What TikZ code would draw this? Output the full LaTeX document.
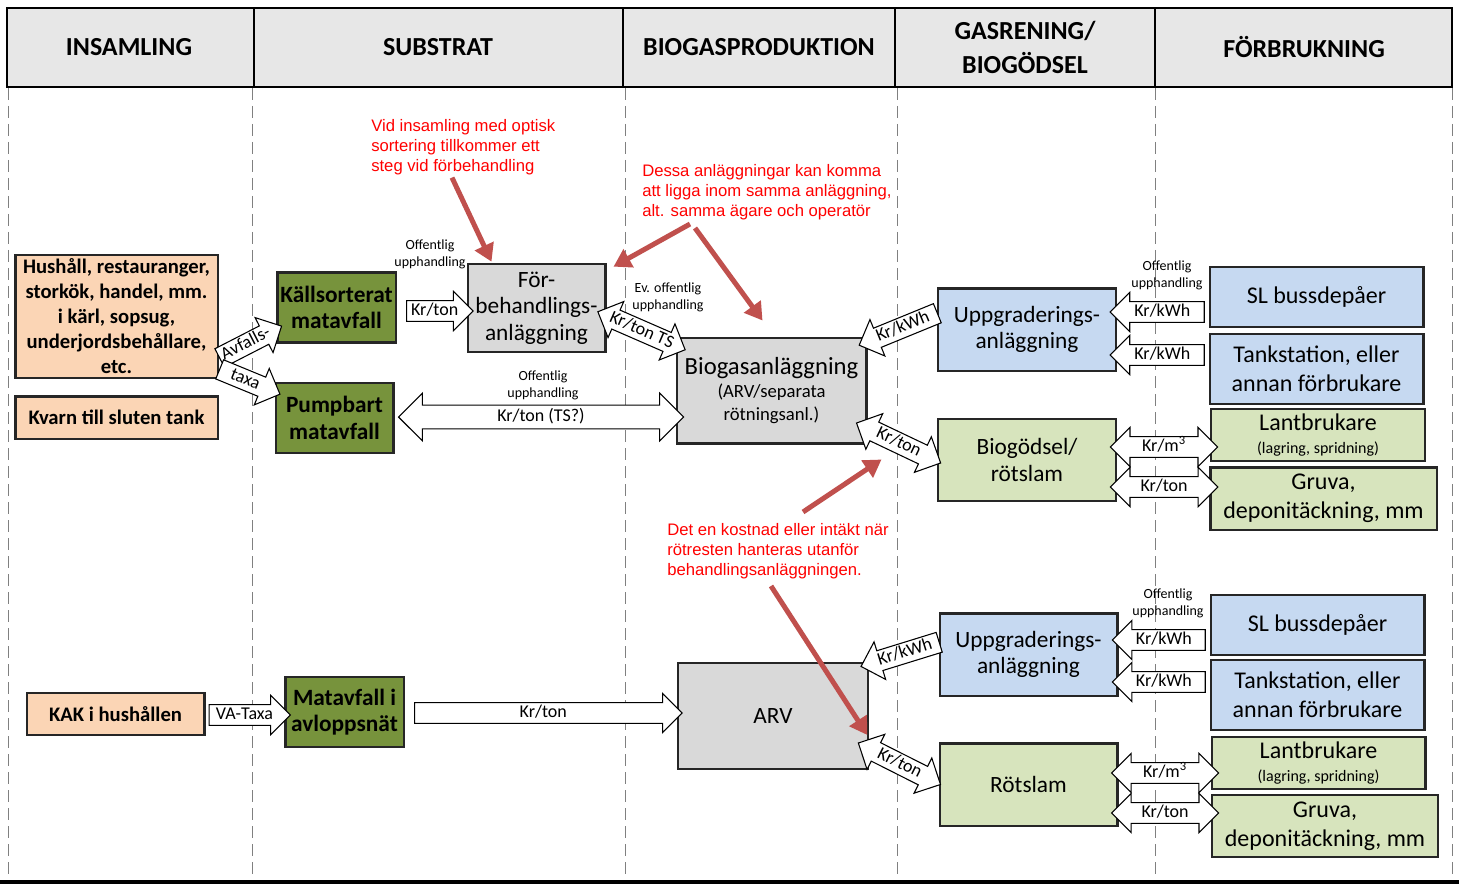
\documentclass[tikz,border=0pt]{standalone}
\usepackage{fontspec}
\setmainfont{Carlito}
\newfontfamily\notefont{Liberation Sans}
\usepackage{tikz}
\usetikzlibrary{calc, positioning}
\usetikzlibrary{shapes.arrows}
\usetikzlibrary{arrows.meta}
\tikzset{>={Triangle[width=15pt,length=13pt]}}
\definecolor{peach}{HTML}{FBD5B5}
\definecolor{olive}{HTML}{77933C}
\definecolor{lgray}{HTML}{D9D9D9}
\definecolor{lblue}{HTML}{C6D9F1}
\definecolor{lgreen}{HTML}{D7E4BD}
\definecolor{headgray}{HTML}{E7E7E7}
\definecolor{notered}{HTML}{C0504D}
\newcommand\headtxt{\fontsize{19.5}{25}\selectfont}
\newcommand\instxt{\fontsize{15.5}{18.75}\selectfont}
\newcommand\boxtxt{\fontsize{17.5}{20}\selectfont}
\newcommand\rtxt{\fontsize{18}{21.75}\selectfont}
\newcommand\arrtxt{\fontsize{13.5}{15}\selectfont}
\newcommand\smalltxt{\fontsize{10.5}{12.75}\selectfont}
\newcommand\notetxt{\notefont\fontsize{12.5}{15.2}\selectfont}
\newcommand\bigname{\fontsize{18.5}{17}\selectfont}
\newcommand\subname{\fontsize{14}{17}\selectfont}
\newcommand\useinfo{\fontsize{12}{17}\selectfont}
\newcommand\rblock[5][]{\path let \p1=(#3), \p2=(#4), \n1={atan2(\y2-\y1,\x2-\x1)}, \n2={veclen(\x2-\x1,\y2-\y1)}
  in node[sarr, minimum height=\n2, rotate=\n1, anchor=tail, #1] (#2) at (\p1) {#5};}
\newcommand\lblock[5][]{\path let \p1=(#3), \p2=(#4), \n1={atan2(\y2-\y1,\x2-\x1)}, \n2={veclen(\x2-\x1,\y2-\y1)}
  in node[sarr, shape border rotate=180, minimum height=\n2, rotate=\n1, anchor=tip, #1] (#2) at (\p1) {#5};}
\newcommand\dblock[5][]{\path let \p1=(#3), \p2=(#4), \n1={atan2(\y2-\y1,\x2-\x1)}, \n2={veclen(\x2-\x1,\y2-\y1)}
  in node[darr, minimum height=\n2, rotate=\n1, #1] (#2) at ($(\p1)!0.5!(\p2)$) {#5};}

\begin{document}
\begin{tikzpicture}[x=0.75pt, y=-0.75pt,
    cell/.style={font=\headtxt\bfseries, align=center},
    box/.style={draw=black!85, line width=2pt, inner sep=0pt, align=center},
    insbox/.style={box, fill=peach, font=\instxt\bfseries},
    subbox/.style={box, fill=olive, font=\boxtxt\bfseries},
    prodbox/.style={box, fill=lgray, font=\boxtxt},
    gasbox/.style={box, fill=lblue, font=\boxtxt},
    godbox/.style={box, fill=lgreen, font=\boxtxt},
    userbox/.style={box, font=\rtxt},
    lantbox/.style={box, fill=lgreen, font=\fontsize{18}{17}\selectfont},
    blk/.style={draw, fill=white, line width=0.8pt, font=\arrtxt, inner xsep=2pt, inner ysep=1.6pt,
        text height=9pt, text depth=2.5pt},
    sarr/.style={blk, single arrow, single arrow head extend=7pt, single arrow tip angle=90},
    darr/.style={blk, double arrow, double arrow head extend=7pt, double arrow tip angle=90},
    tender/.style={font=\smalltxt, align=center, inner sep=0pt},
    remark/.style={font=\notetxt, text=red, align=left, inner sep=0pt, anchor=north west},
    pointer/.style={->, draw=notered, line width=3.75pt},
    colline/.style={draw=gray, line width=0.75pt, dash pattern=on 9pt off 4.5pt}
  ]
  \useasboundingbox (0,0) rectangle (1459,884);

  \draw[fill=headgray, line width=1.2pt] (7,8) rectangle (1452,87);
  \foreach \x in {254,623,895,1155}
  \draw[line width=1.2pt] (\x,8) -- (\x,87);
  \foreach \x in {8,252,625,897,1155,1452}
  \draw[colline] (\x,88) -- (\x,878);
  \fill (0,880) rectangle (1459,884);

  \node[cell] (insamling) at (129,47.5) {INSAMLING};
  \node[cell] (substrat) at (438,47.5) {SUBSTRAT};
  \node[cell] (produktion) at (759,47.5) {BIOGASPRODUKTION};
  \node[cell] (gasrening) at (1025,47.5) {GASRENING/\\BIOGÖDSEL};
  \node[cell] (forbrukning) at (1304,47.5) {FÖRBRUKNING};

  \node[insbox, minimum width=152pt, minimum height=92pt] (hush) at (116.5,316.5)
    {Hushåll, restauranger,\\storkök, handel, mm.\\i kärl, sopsug,\\underjordsbehållare,\\etc.};
  \node[insbox, minimum width=152pt, minimum height=32pt] (kvarn) at (116.5,417.5) {Kvarn till sluten tank};
  \node[insbox, minimum width=133pt, minimum height=31.5pt] (kak) at (115.5,714) {KAK i hushållen};

  \node[subbox, minimum width=89pt, minimum height=52pt] (kallsort) at (336.5,307.5) {Källsorterat\\matavfall};
  \node[subbox, minimum width=88pt, minimum height=52.5pt] (pump) at (334.5,418) {Pumpbart\\matavfall};
  \node[subbox, minimum width=89pt, minimum height=52.5pt] (avlopp) at (344.5,712) {Matavfall i\\avloppsnät};

  \node[prodbox, minimum width=103pt, minimum height=66pt] (forbeh) at (536.5,308) {För-\\behandlings-\\anläggning};
  \node[prodbox, font=\bigname, minimum width=142pt, minimum height=79pt] (biogas) at (771.5,390.5)
    {Biogasanläggning\\\subname (ARV/separata\\\subname rötningsanl.)};
  \node[prodbox, minimum width=142.5pt, minimum height=79.5pt] (arv) at (773,716) {ARV};

  \node[gasbox, minimum width=133.5pt, minimum height=62pt] (uppA) at (1027,329.5) {Uppgraderings-\\anläggning};
  \node[godbox, minimum width=133.5pt, minimum height=61.5pt] (godsel) at (1027,460) {Biogödsel/\\rötslam};
  \node[gasbox, minimum width=133pt, minimum height=62pt] (uppB) at (1028.5,654.5) {Uppgraderings-\\anläggning};
  \node[godbox, minimum width=133pt, minimum height=62pt] (rotslam) at (1028.5,784.5) {Rötslam};

  \node[userbox, fill=lblue, minimum width=160pt, minimum height=45pt] (slA) at (1316.5,297) {SL bussdepåer};
  \node[userbox, fill=lblue, minimum width=160pt, minimum height=52.5pt] (tankA) at (1316.5,369) {Tankstation, eller\\annan förbrukare};
  \node[lantbox, minimum width=160.5pt, minimum height=39pt] (lantA) at (1318,435)
    {Lantbrukare\\\useinfo (lagring, spridning)};
  \node[userbox, fill=lgreen, minimum width=170pt, minimum height=47pt] (gruvaA) at (1323.5,498.5) {Gruva,\\deponitäckning, mm};
  \node[userbox, fill=lblue, minimum width=160pt, minimum height=45pt] (slB) at (1317.5,625) {SL bussdepåer};
  \node[userbox, fill=lblue, minimum width=160pt, minimum height=52.5pt] (tankB) at (1317.5,695) {Tankstation, eller\\annan förbrukare};
  \node[lantbox, minimum width=160pt, minimum height=39pt] (lantB) at (1318.5,763)
    {Lantbrukare\\\useinfo (lagring, spridning)};
  \node[userbox, fill=lgreen, minimum width=169.5pt, minimum height=46.5pt] (gruvaB) at (1325,826) {Gruva,\\deponitäckning, mm};

  \rblock{avfalls}{$(hush.south east)+(0,-21)$}{$(kallsort.west)+(3,20)$}{Avfalls-}
  \rblock{taxa}{$(hush.south east)+(0,-10)$}{$(pump.west)+(5,-24)$}{taxa}
  \rblock{krton1}{$(kallsort.east)+(9,3.5)$}{$(forbeh.west)+(6,3)$}{Kr/ton}
  \rblock{vataxa}{$(kak.east)+(3,1)$}{$(avlopp.west)+(6,3)$}{VA-Taxa}
  \rblock{krton2}{$(avlopp.east)+(9,1)$}{$(arv.west)+(5,-3)$}{Kr/ton}
  \dblock{krtonts}{$(forbeh.east)+(-8,4)$}{$(biogas.north west)+(9,13)$}{Kr/ton TS}
  \dblock[inner ysep=2.8pt, double arrow head extend=9pt]{krtonq}{$(pump.east)+(4,-1)$}{$(biogas.west)+(8,26.5)$}{Kr/ton (TS?)}

  \lblock{kwhA}{$(biogas.north east)+(-9,9)$}{$(uppA.west)+(0,-16)$}{Kr/kWh}
  \lblock{kwhB}{$(arv.north east)+(-9,5)$}{$(uppB.west)+(0,-12)$}{Kr/kWh}
  \dblock{godton}{$(biogas.east)+(-11,32.5)$}{$(godsel.west)+(4,3)$}{Kr/ton}
  \dblock{rotton}{$(arv.east)+(-11,27)$}{$(rotslam.west)+(2,0)$}{Kr/ton}

  \lblock{slkwhA}{$(uppA.east)+(-8,-17.5)$}{$(slA.west)+(-5,15)$}{Kr/kWh}
  \lblock{tankkwhA}{$(uppA.east)+(-8,25.5)$}{$(tankA.west)+(-5,-14)$}{Kr/kWh}
  \dblock{lantmA}{$(godsel.east)+(-7,-13)$}{$(lantA.west)+(8,12)$}{Kr/m\textsuperscript{3}}
  \dblock{gruvtonA}{$(godsel.east)+(-7,27)$}{$(gruvaA.west)+(9,-11.5)$}{Kr/ton}
  \lblock{slkwhB}{$(uppB.east)+(-7,-14.5)$}{$(slB.west)+(-5,15)$}{Kr/kWh}
  \lblock{tankkwhB}{$(uppB.east)+(-7,27.5)$}{$(tankB.west)+(-5,-13)$}{Kr/kWh}
  \dblock{lantmB}{$(rotslam.east)+(-7,-11.5)$}{$(lantB.west)+(8,10)$}{Kr/m\textsuperscript{3}}
  \dblock{gruvtonB}{$(rotslam.east)+(-7,28.5)$}{$(gruvaB.west)+(8,-13)$}{Kr/ton}

  \node[tender] (off1) at (430,254.5) {Offentlig\\upphandling};
  \node[tender] (off2) at (668,297) {Ev. offentlig\\upphandling};
  \node[tender] (off3) at (543,385) {Offentlig\\upphandling};
  \node[tender] (off4) at (1167,275.5) {Offentlig\\upphandling};
  \node[tender] (off5) at (1168,603.5) {Offentlig\\upphandling};

  \node[remark] (note1) at (371,119) {Vid insamling med optisk\\sortering tillkommer ett\\steg vid förbehandling};
  \node[remark] (note2) at (642,164) {Dessa anläggningar kan komma\\att ligga inom samma anläggning,\\alt. samma ägare och operatör};
  \node[remark] (note3) at (667,523) {Det en kostnad eller intäkt när\\rötresten hanteras utanför\\behandlingsanläggningen.};

  \coordinate (p1) at ($(note1.south west)+(81,2)$);
  \coordinate (p2) at (690,224);
  \coordinate (p3) at (695,228);
  \coordinate (p4) at (803,512);
  \coordinate (p5) at (771,586);
  \draw[pointer] (p1) -- ($(forbeh.north west)+(25,-1)$);
  \draw[pointer] (p2) -- ($(forbeh.north east)+(7,4)$);
  \draw[pointer] (p3) -- ($(biogas.north)+(-9,-16)$);
  \draw[pointer] (p4) -- ($(biogas.south east)+(14,15)$);
  \draw[pointer] (p5) -- ($(arv.east)+(-2,19)$);
\end{tikzpicture}
\end{document}
